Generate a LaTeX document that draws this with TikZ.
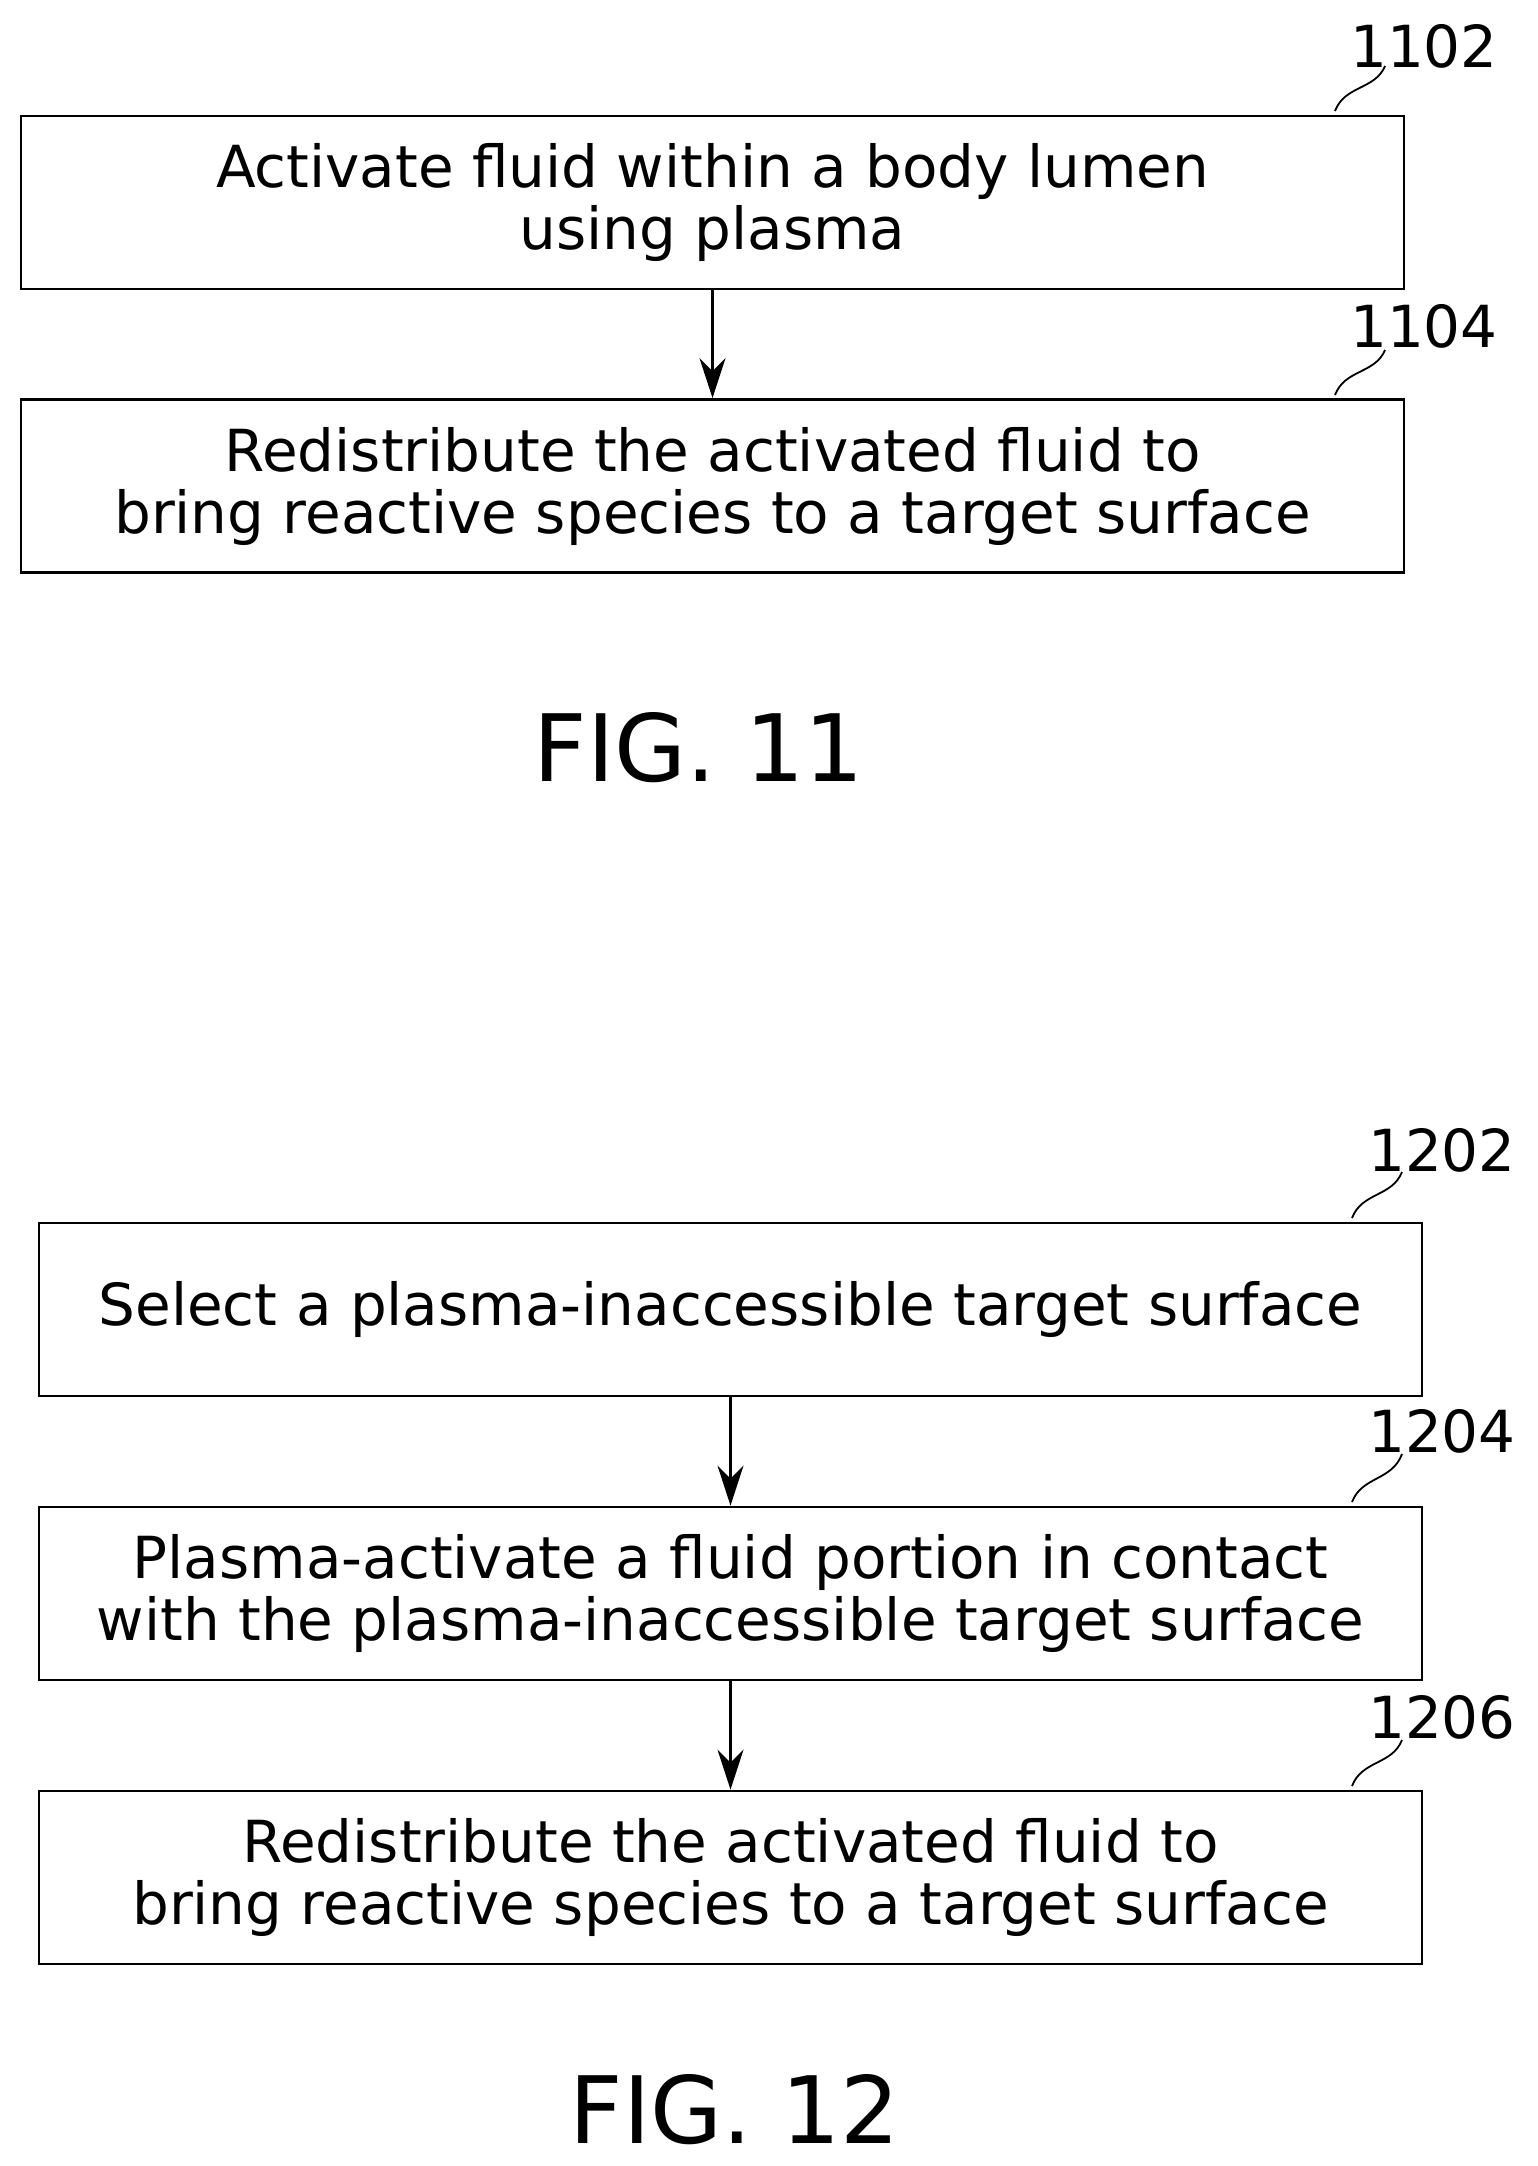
\documentclass[tikz,border=0pt]{standalone}
\usepackage{fontspec}
\setmainfont{DejaVu Sans}
\usetikzlibrary{arrows.meta}
\begin{document}
\begin{tikzpicture}[x=0.5pt,y=-0.5pt,
 box/.style={draw,line width=1.4pt,minimum width=691.5pt,minimum height=86.5pt,align=center,font=\fontsize{29}{31}\selectfont,inner sep=0pt},
 lab/.style={font=\fontsize{29}{31}\selectfont,inner sep=0pt},
 fig/.style={font=\fontsize{46.5}{50}\selectfont,inner sep=0pt},
 arr/.style={line width=1.4pt,-{Stealth[length=20pt,width=13pt]}},
 lead/.style={line width=0.9pt}]
\useasboundingbox (0,0) rectangle (1537,2166);
\node[box] (b1) at (712.5,202.5) {Activate fluid within a body lumen\\using plasma};
\node[box] (b2) at (712.5,486) {Redistribute the activated fluid to\\bring reactive species to a target surface};
\node[lab] (l1) at (1424,46) {1102};
\node[lab] (l2) at (1424,326) {1104};
\draw[lead] (1335,111) .. controls (1345,85) and (1375,90) .. (1385,66);
\draw[lead] (1335,395) .. controls (1345,369) and (1375,374) .. (1385,350);
\draw[arr] (b1) -- (b2);
\node[fig] (f11) at (699,748) {FIG. 11};

\node[box] (c1) at (730.5,1309.5) {Select a plasma-inaccessible target surface};
\node[box] (c2) at (730.5,1593.5) {Plasma-activate a fluid portion in contact\\with the plasma-inaccessible target surface};
\node[box] (c3) at (730.5,1877.5) {Redistribute the activated fluid to\\bring reactive species to a target surface};
\node[lab] (m1) at (1442,1150) {1202};
\node[lab] (m2) at (1442,1431) {1204};
\node[lab] (m3) at (1442,1717) {1206};
\draw[lead] (1352,1218) .. controls (1362,1192) and (1392,1197) .. (1402,1172);
\draw[lead] (1352,1502) .. controls (1362,1476) and (1392,1481) .. (1402,1454);
\draw[lead] (1352,1786) .. controls (1362,1760) and (1392,1765) .. (1402,1740);
\draw[arr] (c1) -- (c2);
\draw[arr] (c2) -- (c3);
\node[fig] (f12) at (735,2110) {FIG. 12};
\end{tikzpicture}
\end{document}
